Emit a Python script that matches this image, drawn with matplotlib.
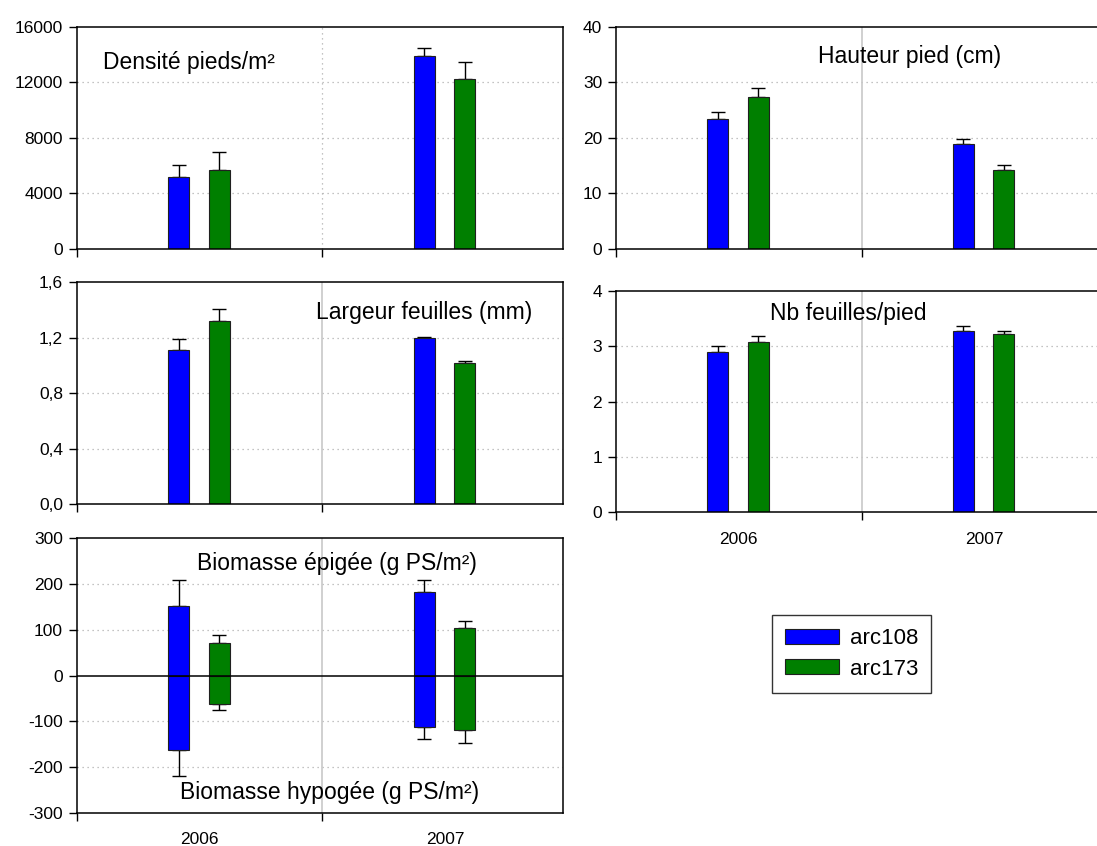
import matplotlib
matplotlib.use('Agg')
import matplotlib.pyplot as plt
import numpy as np
from matplotlib.ticker import FixedLocator, FuncFormatter
from matplotlib.patches import Patch

plt.rcParams['font.family'] = ['Liberation Sans', 'DejaVu Sans']
plt.rcParams['axes.unicode_minus'] = False

annees = ['2006', '2007']
series = ['arc108', 'arc173']
couleurs = ['#0000ff', '#007f00']

# moyennes et erreurs (une seule direction)
densite = [[5140, 13890], [5670, 12230]]
densite_err = [[870, 600], [1320, 1220]]

hauteur = [[23.4, 18.8], [27.3, 14.2]]
hauteur_err = [[1.3, 0.9], [1.6, 0.9]]

largeur = [[1.11, 1.20], [1.32, 1.02]]
largeur_err = [[0.08, 0.008], [0.09, 0.01]]

nb_feuilles = [[2.89, 3.28], [3.07, 3.21]]
nb_feuilles_err = [[0.12, 0.09], [0.11, 0.06]]

bio_epigee = [[152, 182], [71, 104]]
bio_epigee_err = [[56, 26], [17, 16]]
bio_hypogee = [[-162, -113], [-62, -119]]
bio_hypogee_err = [[57, 26], [13, 29]]

W, H = 1097, 846
fig = plt.figure(figsize=(W / 100, H / 100), dpi=100)

def pos(left, right, top, bottom):
    return [left / W, (H - bottom) / H, (right - left) / W, (bottom - top) / H]

x = np.arange(len(annees))
larg = 0.086
decal = [-0.085, 0.08]


def panneau(rect, yticks, xlim_right, sep_style, fmt=None, labels=False):
    ax = fig.add_axes(rect)
    ax.set_xlim(-0.5, xlim_right)
    ax.set_ylim(yticks[0], yticks[-1])
    ax.yaxis.set_major_locator(FixedLocator(yticks))
    if fmt is not None:
        ax.yaxis.set_major_formatter(FuncFormatter(fmt))
    ax.xaxis.set_major_locator(FixedLocator([-0.5, 0.5, 1.5]))
    ax.xaxis.set_major_formatter(FuncFormatter(lambda v, p: ''))
    ax.xaxis.set_minor_locator(FixedLocator(list(x)))
    if labels:
        ax.set_xticks(x, annees, minor=True)
    ax.tick_params(axis='both', which='major', direction='out', length=6,
                   width=1, labelsize=12.5, pad=4)
    ax.tick_params(axis='x', which='minor', length=0, labelsize=12.5, pad=14)
    for yt in yticks[1:-1]:
        if yt != 0:
            ax.axhline(yt, color='#b0b0b0', lw=0.9, ls=(0, (1, 3)), zorder=0)
    if sep_style == 'dot':
        ax.axvline(0.5, color='#b0b0b0', lw=0.9, ls=(0, (1, 3)), zorder=0)
    else:
        ax.axvline(0.5, color='#c8c8c8', lw=1.2, zorder=0)
    for s in ax.spines.values():
        s.set_linewidth(1.1)
    return ax


def barres(ax, valeurs, erreurs, sens=1):
    for i in range(len(series)):
        xs = x + decal[i]
        ax.bar(xs, valeurs[i], larg, color=couleurs[i], edgecolor='#202020',
               linewidth=0.8, zorder=2)
        err = np.array(erreurs[i])
        if sens > 0:
            yerr = [np.zeros_like(err), err]
        else:
            yerr = [err, np.zeros_like(err)]
        ax.errorbar(xs, valeurs[i], yerr=yerr, fmt='none', ecolor='black',
                    elinewidth=1, capsize=5, capthick=1, zorder=1)


virgule = lambda v, p: ('%.1f' % v).replace('.', ',')

ax1 = panneau(pos(77, 563, 26.7, 248.7), [0, 4000, 8000, 12000, 16000], 1.48, 'dot')
barres(ax1, densite, densite_err)
ax1.text(0.054, 0.84, 'Densité pieds/m²', transform=ax1.transAxes, fontsize=16.5,
         ha='left', va='center')

ax2 = panneau(pos(616, 1107, 26.7, 248.7), [0, 10, 20, 30, 40], 1.5, 'solid')
barres(ax2, hauteur, hauteur_err)
ax2.text(0.597, 0.865, 'Hauteur pied (cm)', transform=ax2.transAxes, fontsize=16.5,
         ha='center', va='center')

ax3 = panneau(pos(77, 563, 282.3, 504), [0, 0.4, 0.8, 1.2, 1.6], 1.48, 'solid', fmt=virgule)
barres(ax3, largeur, largeur_err)
ax3.text(0.714, 0.864, 'Largeur feuilles (mm)', transform=ax3.transAxes, fontsize=16.5,
         ha='center', va='center')

ax4 = panneau(pos(616, 1107, 290.7, 512.3), [0, 1, 2, 3, 4], 1.5, 'solid', labels=True)
barres(ax4, nb_feuilles, nb_feuilles_err)
ax4.text(0.472, 0.897, 'Nb feuilles/pied', transform=ax4.transAxes, fontsize=16.5,
         ha='center', va='center')

ax5 = panneau(pos(77, 563, 538.3, 812.7), [-300, -200, -100, 0, 100, 200, 300], 1.48,
              'solid', labels=True)
barres(ax5, bio_epigee, bio_epigee_err, 1)
barres(ax5, bio_hypogee, bio_hypogee_err, -1)
ax5.axhline(0, color='black', lw=1.1, zorder=3)
ax5.text(0.535, 0.909, 'Biomasse épigée (g PS/m²)', transform=ax5.transAxes,
         fontsize=16.5, ha='center', va='center')
ax5.text(0.52, 0.073, 'Biomasse hypogée (g PS/m²)', transform=ax5.transAxes,
         fontsize=16.5, ha='center', va='center')

poignees = [Patch(facecolor=c, edgecolor='#202020', linewidth=0.8) for c in couleurs]
leg = fig.legend(poignees, series, loc='upper left',
                 bbox_to_anchor=(772 / W, (H - 615) / H), fontsize=16,
                 frameon=True, fancybox=False, edgecolor='black', borderpad=0.6,
                 handlelength=2.4, handleheight=0.65, handletextpad=0.5,
                 labelspacing=0.42, borderaxespad=0)
leg.get_frame().set_linewidth(1)

fig.savefig('out.png', dpi=100)
